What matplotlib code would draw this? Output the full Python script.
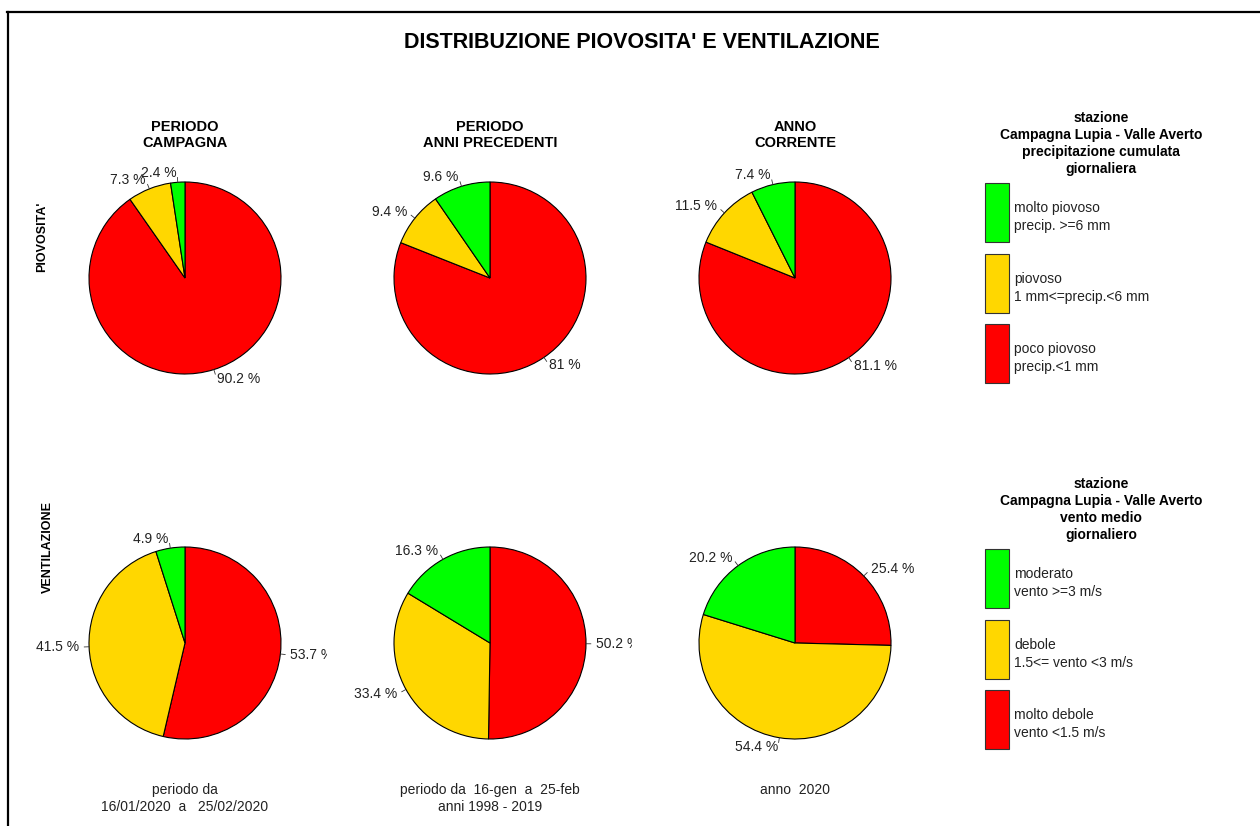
import matplotlib
matplotlib.use("Agg")
import matplotlib.pyplot as plt
import numpy as np
from matplotlib.lines import Line2D
from matplotlib.patches import Rectangle

plt.rcParams['font.family'] = ['Liberation Sans', 'DejaVu Sans']

# colori: poco / medio / molto (rosso, giallo, verde)
colori = ['#FF0000', '#FFD700', '#00FF00']

# piovosita' (poco piovoso, piovoso, molto piovoso)
piov_campagna = [90.2, 7.3, 2.4]
piov_anni_prec = [81, 9.4, 9.6]
piov_anno = [81.1, 11.5, 7.4]

# ventilazione (molto debole, debole, moderato)
vento_campagna = [53.7, 41.5, 4.9]
vento_anni_prec = [50.2, 33.4, 16.3]
vento_anno = [25.4, 54.4, 20.2]

titoli_col = ["PERIODO\nCAMPAGNA", "PERIODO\nANNI PRECEDENTI", "ANNO\nCORRENTE"]
didascalie = ["periodo da\n16/01/2020  a   25/02/2020",
              "periodo da  16-gen  a  25-feb\nanni 1998 - 2019",
              "anno  2020"]

leg_piov_titolo = "stazione\nCampagna Lupia - Valle Averto\nprecipitazione cumulata\ngiornaliera"
leg_piov_voci = ["molto piovoso\nprecip. >=6 mm", "piovoso\n1 mm<=precip.<6 mm",
                 "poco piovoso\nprecip.<1 mm"]
leg_vento_titolo = "stazione\nCampagna Lupia - Valle Averto\nvento medio\ngiornaliero"
leg_vento_voci = ["moderato\nvento >=3 m/s", "debole\n1.5<= vento <3 m/s",
                  "molto debole\nvento <1.5 m/s"]

W, H = 1260, 826
fig = plt.figure(figsize=(W / 100, H / 100), dpi=100)


def fx(x):
    return x / W


def fy(y):
    return 1 - y / H


R = 96  # raggio in pixel
col_x = [185, 490, 795]
col_edges = [(15, 327), (327, 632), (632, 937)]
row_y = [278, 643]
row_edges = [(95, 425), (455, 775)]


def torta(valori, cx, cy, xe, ye):
    ax = fig.add_axes([fx(xe[0]), fy(ye[1]), (xe[1] - xe[0]) / W, (ye[1] - ye[0]) / H])
    etichette = [f"{v:g} %" for v in valori]
    wedges, texts = ax.pie(valori, colors=colori, startangle=90, counterclock=False,
                           labels=etichette, labeldistance=1.1, radius=1,
                           wedgeprops=dict(edgecolor='black', linewidth=0.8),
                           textprops=dict(fontsize=10, color='#222222'))
    ax.set_aspect('auto')
    ax.set_xlim((xe[0] - cx) / R, (xe[1] - cx) / R)
    ax.set_ylim((cy - ye[1]) / R, (cy - ye[0]) / R)
    ax.axis('off')
    for w in wedges:
        mid = np.deg2rad((w.theta1 + w.theta2) / 2)
        ax.plot([np.cos(mid), 1.05 * np.cos(mid)], [np.sin(mid), 1.05 * np.sin(mid)],
                color='#333333', lw=0.6, clip_on=False)
    # le etichette vengono tagliate al bordo della regione, come nell'originale
    for t in texts:
        t.set_clip_on(True)
        t.set_clip_box(ax.bbox)


dati = [[piov_campagna, piov_anni_prec, piov_anno],
        [vento_campagna, vento_anni_prec, vento_anno]]
for r in range(2):
    for c in range(3):
        torta(dati[r][c], col_x[c], row_y[r], col_edges[c], row_edges[r])

# titolo
fig.text(fx(642), fy(42), "DISTRIBUZIONE PIOVOSITA' E VENTILAZIONE", ha='center', va='center',
         fontsize=15.5, fontweight='bold')

for c in range(3):
    fig.text(fx(col_x[c]), fy(135), titoli_col[c], ha='center', va='center', fontsize=10.5,
             fontweight='bold', linespacing=1.15)
    fig.text(fx(col_x[c]), fy(783), didascalie[c], ha='center', va='top',
             fontsize=10, linespacing=1.27, color='#222222')

fig.text(fx(42), fy(237), "PIOVOSITA'", rotation=90, ha='center', va='center',
         fontsize=9, fontweight='bold')
fig.text(fx(48), fy(547), "VENTILAZIONE", rotation=90, ha='center', va='center',
         fontsize=9, fontweight='bold')


def legenda(titolo, voci, y_titolo, box_tops):
    fig.text(fx(1101), fy(y_titolo), titolo, ha='center', va='top', fontsize=10,
             fontweight='bold', linespacing=1.28)
    for voce, col, top in zip(voci, colori[::-1], box_tops):
        fig.add_artist(Rectangle((fx(985), fy(top + 59)), 24 / W, 59 / H,
                                 transform=fig.transFigure, facecolor=col,
                                 edgecolor='#333333', lw=0.8))
        fig.text(fx(1014), fy(top + 34), voce, ha='left', va='center', fontsize=10,
                 linespacing=1.3, color='#222222')


legenda(leg_piov_titolo, leg_piov_voci, 111, [183, 254, 324])
legenda(leg_vento_titolo, leg_vento_voci, 477, [549, 620, 690])

# cornice
fig.add_artist(Line2D([fx(7), 1], [fy(12), fy(12)], transform=fig.transFigure,
                      color='black', lw=1.6))
fig.add_artist(Line2D([fx(8), fx(8)], [fy(12), 0], transform=fig.transFigure,
                      color='black', lw=1.6))

fig.savefig("out.png", dpi=100)
